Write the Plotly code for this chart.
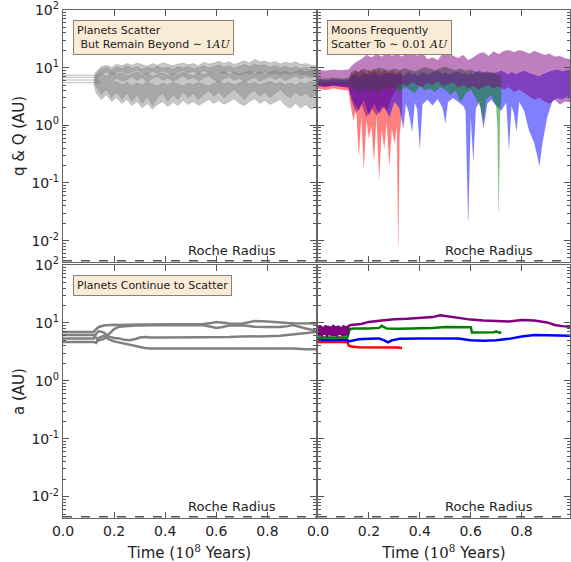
import plotly.graph_objects as go

# ---------------- data ----------------
# Top-left: planets pericentre q and apocentre Q (AU)
t_pl = [0.0, 0.12, 0.13, 0.15, 0.17, 0.19, 0.21, 0.23, 0.25, 0.27, 0.29, 0.31, 0.33, 0.35, 0.37,
        0.39, 0.41, 0.43, 0.45, 0.47, 0.49, 0.51, 0.53, 0.55, 0.57, 0.59, 0.61, 0.63, 0.65, 0.67,
        0.69, 0.71, 0.73, 0.75, 0.77, 0.79, 0.81, 0.83, 0.85, 0.87, 0.89, 0.91, 0.93, 0.95, 0.97, 0.99]
p1_Q = [7.4, 7.4, 8.5, 10.5, 11.0, 10.2, 11.5, 10.8, 11.8, 11.0, 12.0, 11.2, 10.6, 11.8, 11.0, 12.2,
        11.4, 10.8, 11.6, 12.0, 11.2, 11.8, 10.8, 12.4, 11.6, 12.0, 13.0, 11.8, 12.6, 11.4, 12.2,
        13.2, 12.0, 14.0, 12.6, 13.0, 12.0, 12.8, 11.6, 12.4, 11.8, 12.6, 11.4, 11.8, 11.0, 10.8]
p1_q = [7.4, 7.4, 6.5, 7.8, 8.4, 7.6, 8.2, 8.8, 7.8, 8.4, 9.0, 8.2, 7.6, 8.6, 8.0, 8.8, 8.2, 7.6,
        8.4, 9.0, 8.2, 8.6, 7.8, 8.8, 8.2, 7.6, 8.4, 7.8, 8.8, 8.0, 7.4, 8.2, 7.6, 8.6, 7.8, 8.4,
        7.6, 8.2, 7.4, 8.0, 7.6, 8.2, 7.4, 7.8, 7.2, 7.6]
p2_Q = [6.8, 6.8, 7.8, 9.5, 10.2, 9.0, 10.4, 9.6, 10.8, 9.8, 10.4, 9.4, 10.2, 9.6, 10.6, 9.8, 10.2,
        9.4, 10.4, 9.8, 10.6, 9.6, 10.0, 10.8, 9.8, 10.4, 11.2, 10.2, 10.8, 9.8, 10.6, 11.4, 10.4,
        11.6, 10.8, 11.2, 10.2, 10.8, 10.0, 10.6, 9.8, 10.4, 9.6, 10.2, 9.4, 9.8]
p2_q = [6.8, 6.8, 5.0, 5.8, 6.4, 5.4, 6.6, 5.8, 6.2, 7.0, 6.0, 6.8, 5.6, 6.4, 7.0, 6.0, 6.6, 5.8,
        6.4, 7.2, 6.2, 6.8, 5.8, 6.6, 7.2, 6.2, 5.6, 6.4, 7.0, 6.0, 6.6, 5.6, 6.2, 6.8, 5.8, 6.4,
        7.0, 6.2, 6.8, 6.0, 6.6, 7.2, 6.4, 7.0, 6.6, 7.2]
p3_Q = [6.1, 6.1, 7.2, 8.0, 7.0, 8.4, 7.6, 8.2, 7.2, 7.8, 8.4, 7.6, 8.0, 7.2, 7.8, 8.2, 7.4, 8.0,
        7.6, 8.4, 7.8, 7.2, 8.0, 7.6, 8.2, 7.4, 8.0, 8.6, 7.8, 8.4, 7.6, 8.2, 8.8, 8.0, 8.6, 7.8,
        8.4, 9.0, 8.2, 8.8, 8.0, 8.6, 9.2, 8.4, 9.0, 8.6]
p3_q = [6.1, 6.1, 4.6, 3.4, 4.2, 3.0, 3.8, 2.8, 3.6, 2.6, 3.4, 2.4, 3.2, 2.2, 3.0, 3.6, 2.6, 3.4,
        2.8, 3.8, 3.0, 3.6, 2.8, 3.4, 4.0, 3.2, 3.8, 3.0, 3.6, 4.2, 3.4, 2.8, 3.6, 4.0, 3.2, 3.8,
        3.0, 3.6, 4.2, 3.4, 3.0, 3.8, 3.2, 3.6, 3.0, 3.4]
p4_Q = [5.5, 5.5, 6.4, 5.6, 6.2, 5.2, 5.8, 5.0, 5.6, 4.8, 5.4, 5.0, 5.6, 5.2, 4.8, 5.4, 5.0, 5.6,
        5.2, 4.8, 5.4, 5.0, 5.6, 5.2, 4.8, 5.4, 5.8, 5.2, 5.6, 5.0, 5.4, 5.8, 5.2, 5.6, 5.0, 5.4,
        5.8, 5.2, 5.6, 5.0, 5.4, 5.0, 5.6, 5.2, 5.8, 5.4]
p4_q = [5.5, 5.5, 3.6, 2.8, 3.4, 2.6, 3.0, 2.4, 2.8, 2.2, 2.6, 2.0, 2.4, 1.9, 2.3, 2.6, 2.1, 2.5,
        2.2, 2.7, 2.3, 2.6, 2.2, 2.5, 2.8, 2.4, 2.7, 2.3, 2.6, 2.9, 2.4, 2.2, 2.6, 2.9, 2.4, 2.7,
        2.3, 2.5, 2.8, 2.2, 2.0, 2.4, 2.0, 2.3, 1.9, 2.1]

# Top-right: moons q and Q (AU)
t_red = [0.0, 0.03, 0.06, 0.09, 0.12, 0.13, 0.14, 0.15, 0.16, 0.17, 0.18, 0.19, 0.2, 0.21, 0.22,
         0.23, 0.24, 0.25, 0.26, 0.27, 0.28, 0.29, 0.3, 0.31, 0.315, 0.32, 0.33]
q_red = [4.3, 4.1, 4.4, 4.2, 4.0, 2.0, 1.2, 2.2, 0.3, 1.5, 0.18, 1.3, 0.6, 1.0, 0.25, 1.6, 0.12,
         0.9, 0.4, 1.2, 0.2, 0.9, 0.5, 1.0, 0.008, 0.6, 2.0]
Q_red = [5.6, 5.4, 5.7, 5.5, 5.6, 8.5, 7.5, 9.0, 8.0, 9.5, 8.5, 7.8, 9.0, 8.2, 9.6, 8.4, 9.0, 8.0,
         9.2, 8.6, 8.0, 9.0, 8.4, 7.8, 8.2, 8.6, 8.0]

t_blue = [0.0, 0.03, 0.06, 0.09, 0.12, 0.14, 0.16, 0.18, 0.2, 0.22, 0.24, 0.26, 0.28, 0.3, 0.32,
          0.335, 0.345, 0.355, 0.37, 0.38, 0.39, 0.4, 0.41, 0.43, 0.45, 0.47, 0.49, 0.5, 0.51,
          0.53, 0.55, 0.57, 0.58, 0.59, 0.6, 0.61, 0.62, 0.635, 0.65, 0.665, 0.68, 0.7, 0.72,
          0.74, 0.75, 0.76, 0.77, 0.78, 0.79, 0.81, 0.83, 0.85, 0.87, 0.88, 0.9, 0.92, 0.94,
          0.96, 0.98, 0.99]
q_blue = [4.8, 4.7, 4.9, 4.8, 4.6, 2.5, 1.8, 2.8, 1.5, 2.4, 1.6, 2.2, 1.4, 2.6, 2.0, 0.9, 2.4,
          1.8, 0.8, 2.5, 1.9, 0.4, 2.3, 2.8, 2.2, 2.9, 2.0, 1.1, 2.5, 3.0, 2.6, 2.2, 1.8, 0.022,
          1.5, 0.25, 2.0, 2.6, 0.9, 2.4, 2.8, 2.2, 1.8, 2.5, 0.4, 2.2, 1.6, 0.8, 2.6, 1.8, 0.8,
          0.5, 0.2, 0.45, 1.4, 2.6, 3.0, 2.8, 3.2, 3.0]
Q_blue = [6.2, 6.0, 6.3, 6.1, 6.2, 7.5, 6.8, 8.0, 7.2, 8.5, 7.0, 7.8, 8.2, 7.4, 8.0, 7.2, 7.8,
          8.4, 7.6, 8.0, 7.2, 7.8, 8.4, 7.6, 8.2, 8.8, 7.8, 8.4, 7.6, 8.0, 8.6, 7.8, 8.2, 7.4,
          8.0, 7.6, 8.4, 8.8, 8.0, 8.6, 7.8, 8.2, 8.8, 8.0, 7.6, 8.4, 8.0, 7.6, 8.2, 8.8, 8.0,
          7.4, 7.0, 7.6, 8.2, 8.8, 9.2, 8.6, 9.0, 8.8]

t_green = [0.0, 0.03, 0.06, 0.09, 0.12, 0.14, 0.16, 0.18, 0.2, 0.22, 0.24, 0.26, 0.28, 0.3, 0.32,
           0.34, 0.36, 0.38, 0.4, 0.42, 0.44, 0.46, 0.48, 0.5, 0.52, 0.54, 0.56, 0.58, 0.6, 0.62,
           0.64, 0.65, 0.66, 0.68, 0.7, 0.705, 0.71, 0.715, 0.72]
q_green = [5.2, 5.1, 5.3, 5.2, 5.0, 4.2, 3.6, 4.6, 3.8, 4.4, 3.5, 4.8, 4.0, 4.5, 3.8, 4.6, 4.2,
           3.6, 4.8, 4.0, 4.4, 3.8, 4.6, 4.2, 3.4, 4.0, 2.6, 3.6, 4.2, 3.0, 2.0, 1.2, 2.8, 3.4,
           2.2, 0.9, 0.03, 1.6, 3.0]
Q_green = [6.6, 6.4, 6.7, 6.5, 6.6, 9.0, 8.4, 9.6, 8.8, 9.2, 10.0, 9.4, 8.8, 9.6, 9.0, 9.8, 9.2,
           8.6, 9.4, 10.2, 9.6, 9.0, 9.8, 10.4, 9.6, 9.0, 9.6, 8.8, 9.2, 8.4, 8.0, 8.6, 7.8, 8.4,
           8.0, 7.6, 7.2, 7.6, 7.4]

t_purple = [0.0, 0.03, 0.06, 0.09, 0.12, 0.13, 0.15, 0.17, 0.19, 0.21, 0.23, 0.25, 0.27, 0.29,
            0.31, 0.33, 0.35, 0.37, 0.39, 0.41, 0.43, 0.45, 0.47, 0.49, 0.51, 0.53, 0.55, 0.57,
            0.59, 0.61, 0.63, 0.65, 0.67, 0.69, 0.71, 0.73, 0.75, 0.77, 0.79, 0.81, 0.83, 0.85,
            0.87, 0.89, 0.91, 0.93, 0.95, 0.97, 0.99]
q_purple = [4.8, 4.6, 4.9, 4.7, 4.5, 2.8, 1.6, 2.4, 1.4, 2.0, 1.5, 2.2, 1.8, 3.2, 4.4, 5.2, 4.8,
            5.6, 5.0, 4.6, 5.4, 5.0, 5.8, 4.8, 5.2, 5.6, 4.6, 5.0, 4.4, 4.8, 4.2, 4.6, 5.0, 4.4,
            4.8, 4.2, 4.6, 3.8, 4.2, 3.6, 3.2, 2.8, 3.0, 2.6, 2.4, 2.8, 2.3, 2.6, 2.5]
Q_purple = [9.0, 8.8, 9.2, 9.0, 9.2, 10.5, 12.5, 14.0, 16.5, 15.0, 17.0, 15.5, 18.0, 16.0, 17.5,
            15.5, 18.5, 19.0, 16.0, 18.0, 14.0, 15.0, 13.5, 17.5, 18.0, 16.0, 14.5, 16.5, 13.5,
            15.0, 17.5, 18.5, 16.0, 19.0, 17.0, 19.5, 20.0, 18.5, 20.0, 19.0, 17.5, 19.5, 18.0,
            16.5, 17.5, 15.5, 16.0, 14.5, 14.0]

# Bottom-left: planets semi-major axis a (AU)
t_a = [0.0, 0.12, 0.13, 0.14, 0.16, 0.18, 0.2, 0.22, 0.24, 0.26, 0.28, 0.3, 0.32, 0.34, 0.4,
       0.5, 0.55, 0.58, 0.6, 0.62, 0.65, 0.7, 0.73, 0.75, 0.8, 0.85, 0.88, 0.9, 0.95, 0.99]
a_p1 = [7.0, 7.0, 7.8, 8.5, 9.0, 9.2, 9.3, 9.2, 9.3, 9.3, 9.4, 9.4, 9.4, 9.4, 9.5, 9.5, 9.6,
        10.0, 10.4, 10.2, 9.8, 9.7, 10.2, 10.8, 10.6, 10.4, 10.0, 9.9, 9.8, 9.8]
a_p2 = [6.2, 6.2, 5.5, 5.0, 5.3, 6.5, 7.8, 8.6, 8.8, 8.9, 9.0, 9.0, 9.1, 9.1, 9.2, 9.2, 9.1,
        8.6, 8.2, 8.4, 9.0, 9.1, 8.8, 8.6, 8.5, 8.5, 8.8, 9.2, 8.0, 7.4]
a_p3 = [5.4, 5.4, 6.5, 7.2, 6.8, 5.8, 5.5, 5.4, 5.1, 5.0, 5.2, 5.6, 5.7, 5.6, 5.6, 5.6, 5.6,
        5.6, 5.6, 5.7, 5.7, 5.8, 5.8, 5.8, 5.9, 6.0, 6.2, 6.5, 6.8, 7.0]
a_p4 = [4.7, 4.7, 4.5, 5.5, 6.0, 5.2, 4.8, 4.6, 4.4, 4.2, 4.0, 3.8, 3.7, 3.6, 3.6, 3.6, 3.6,
        3.6, 3.6, 3.6, 3.6, 3.6, 3.6, 3.6, 3.6, 3.7, 3.6, 3.6, 3.5, 3.5]

# Bottom-right: moons semi-major axis a (AU)
t_ared = [0.0, 0.03, 0.06, 0.09, 0.115, 0.12, 0.13, 0.16, 0.2, 0.24, 0.28, 0.31, 0.33]
a_red = [4.7, 4.7, 4.7, 4.7, 4.7, 4.1, 3.9, 3.8, 3.8, 3.8, 3.85, 3.75, 3.7]
t_ablue = [0.0, 0.06, 0.115, 0.12, 0.16, 0.2, 0.24, 0.26, 0.275, 0.29, 0.32, 0.4, 0.5, 0.55,
           0.6, 0.65, 0.7, 0.75, 0.8, 0.85, 0.9, 0.95, 0.99]
a_blue = [5.1, 5.1, 5.1, 4.8, 5.2, 5.3, 5.4, 5.0, 4.6, 5.0, 5.3, 5.4, 5.5, 5.4, 5.0, 4.9, 5.0,
          5.3, 5.8, 6.2, 6.1, 6.0, 6.0]
t_agreen = [0.0, 0.06, 0.115, 0.125, 0.14, 0.2, 0.24, 0.25, 0.27, 0.32, 0.4, 0.45, 0.5, 0.55,
            0.6, 0.605, 0.65, 0.69, 0.7, 0.72]
a_green = [5.6, 5.6, 5.6, 7.8, 8.0, 8.0, 8.2, 8.9, 8.0, 7.9, 8.0, 8.2, 8.5, 8.4, 8.4, 6.8, 6.8,
           6.9, 7.1, 6.7]
t_apurple = [0.0, 0.005, 0.01, 0.015, 0.02, 0.025, 0.03, 0.035, 0.04, 0.045, 0.05, 0.055, 0.06,
             0.065, 0.07, 0.075, 0.08, 0.085, 0.09, 0.095, 0.1, 0.105, 0.11, 0.115, 0.12, 0.13,
             0.17, 0.2, 0.25, 0.3, 0.35, 0.4, 0.45, 0.48, 0.5, 0.55, 0.6, 0.65, 0.7, 0.75, 0.8,
             0.85, 0.9, 0.93, 0.96, 0.99]
a_purple = [8.8, 6.0, 9.0, 5.8, 8.6, 6.2, 9.1, 5.7, 8.9, 6.1, 8.7, 5.9, 9.2, 6.0, 8.8, 5.8, 9.0,
            6.2, 8.6, 5.9, 9.1, 6.0, 8.8, 6.1, 8.9, 9.2, 9.6, 10.4, 11.0, 11.6, 11.8, 12.2, 12.6,
            13.6, 13.2, 12.4, 11.4, 11.0, 10.8, 10.6, 11.2, 11.0, 10.2, 9.2, 8.8, 8.6]

roche = 0.0045
ytick_vals = [0.01, 0.1, 1, 10, 100]
ytick_text = ["10<sup>-2</sup>", "10<sup>-1</sup>", "10<sup>0</sup>", "10<sup>1</sup>", "10<sup>2</sup>"]
xtick_vals = [0.0, 0.2, 0.4, 0.6, 0.8]
xtick_text = ["0.0", "0.2", "0.4", "0.6", "0.8"]

# ---------------- figure ----------------
fig = go.Figure()


def band(t, q, Q, color, xa, ya, edge):
    fig.add_trace(go.Scatter(x=list(t) + list(t)[::-1], y=list(Q) + list(q)[::-1],
                             fill="toself", fillcolor=color, mode="lines",
                             line=dict(color=edge, width=0.6), xaxis=xa, yaxis=ya,
                             showlegend=False, hoverinfo="skip"))


gray_fill = "rgba(128,128,128,0.45)"
gray_edge = "rgba(128,128,128,0.5)"
for q, Q in [(p1_q, p1_Q), (p2_q, p2_Q), (p3_q, p3_Q), (p4_q, p4_Q)]:
    band(t_pl, q, Q, gray_fill, "x", "y", gray_edge)

band(t_red, q_red, Q_red, "rgba(255,0,0,0.5)", "x2", "y2", "rgba(255,0,0,0.15)")
band(t_blue, q_blue, Q_blue, "rgba(0,0,255,0.5)", "x2", "y2", "rgba(0,0,255,0.15)")
band(t_green, q_green, Q_green, "rgba(0,128,0,0.5)", "x2", "y2", "rgba(0,128,0,0.15)")
band(t_purple, q_purple, Q_purple, "rgba(128,0,128,0.5)", "x2", "y2", "rgba(128,0,128,0.15)")

for a in [a_p1, a_p2, a_p3, a_p4]:
    fig.add_trace(go.Scatter(x=t_a, y=a, mode="lines", line=dict(color="#808080", width=2.5),
                             xaxis="x3", yaxis="y3", showlegend=False))

for t, a, c in [(t_ared, a_red, "red"), (t_ablue, a_blue, "blue"),
                (t_agreen, a_green, "green"), (t_apurple, a_purple, "purple")]:
    fig.add_trace(go.Scatter(x=t, y=a, mode="lines", line=dict(color=c, width=2.5),
                             xaxis="x4", yaxis="y4", showlegend=False))

for xa, ya in [("x", "y"), ("x2", "y2"), ("x3", "y3"), ("x4", "y4")]:
    fig.add_trace(go.Scatter(x=[0, 1.0], y=[roche, roche], mode="lines",
                             line=dict(color="#555555", width=1.5, dash="dash"),
                             xaxis=xa, yaxis=ya, showlegend=False))

minor_vals = [m * 10.0 ** e for e in range(-3, 2) for m in range(2, 10)]
axis_line = dict(showline=True, linecolor="#666666", linewidth=1.4, mirror="allticks",
                 ticks="inside", ticklen=6, tickcolor="#555555", showgrid=False, zeroline=False,
                 automargin=False, tickfont=dict(size=14, color="#222222"))


def xaxis(domain, anchor, labels):
    d = dict(axis_line, domain=domain, anchor=anchor, range=[0, 0.99], tickmode="array",
             tickvals=xtick_vals, ticktext=xtick_text, showticklabels=labels)
    if labels:
        d["title"] = dict(text="Time (<span style='font-family:DejaVu Serif'>10<sup>8</sup></span> Years)",
                          font=dict(size=15, color="#222222"))
    return d


def yaxis(domain, anchor, labels, title):
    d = dict(axis_line, type="log", domain=domain, anchor=anchor, range=[-2.37, 2.0],
             tickmode="array", tickvals=ytick_vals, ticktext=ytick_text, showticklabels=labels,
             minor=dict(ticks="inside", ticklen=3, tickcolor="#555555", tickmode="array",
                        tickvals=minor_vals, showgrid=False))
    if title:
        d["title"] = dict(text=title, font=dict(size=15, color="#222222"), standoff=3)
    return d


xl = [0.0, 0.499]
xr = [0.503, 1.0]
yt = [0.504, 1.0]
yb = [0.0, 0.498]

fig.update_layout(
    width=571, height=562,
    margin=dict(l=63, r=1, t=10, b=44),
    paper_bgcolor="white", plot_bgcolor="white",
    font=dict(family="DejaVu Sans", color="#222222"),
    xaxis=xaxis(xl, "y", False), yaxis=yaxis(yt, "x", True, "q &amp; Q (AU)"),
    xaxis2=xaxis(xr, "y2", False), yaxis2=yaxis(yt, "x2", False, None),
    xaxis3=xaxis(xl, "y3", True), yaxis3=yaxis(yb, "x3", True, "a (AU)"),
    xaxis4=xaxis(xr, "y4", True), yaxis4=yaxis(yb, "x4", False, None),
)

box = dict(bgcolor="#f9ebd6", bordercolor="#8c8170", borderwidth=1, borderpad=3,
           font=dict(size=11, color="#222222"), align="left", showarrow=False,
           xanchor="left", yanchor="top")
serif = "<span style='font-family:DejaVu Serif'>"
fig.add_annotation(xref="x domain", yref="y domain", x=0.04, y=0.962,
                   text="Planets Scatter<br> But Remain Beyond " + serif + "∼ 1<i>AU</i></span>", **box)
fig.add_annotation(xref="x2 domain", yref="y2 domain", x=0.035, y=0.962,
                   text="Moons Frequently<br>Scatter To " + serif + "∼ 0.01 <i>AU</i></span>", **box)
fig.add_annotation(xref="x3 domain", yref="y3 domain", x=0.04, y=0.962,
                   text="Planets Continue to Scatter", **box)

for xr_, yr_, xc in [("x domain", "y domain", 0.668), ("x2 domain", "y2 domain", 0.677),
                     ("x3 domain", "y3 domain", 0.668), ("x4 domain", "y4 domain", 0.677)]:
    fig.add_annotation(xref=xr_, yref=yr_, x=xc, y=0.01, text="Roche Radius",
                       showarrow=False, xanchor="center", yanchor="bottom",
                       font=dict(size=13, color="#222222"), borderpad=0)

fig.write_html("out.html", config={"displayModeBar": False},
               post_script="document.body.style.margin='0px';")
